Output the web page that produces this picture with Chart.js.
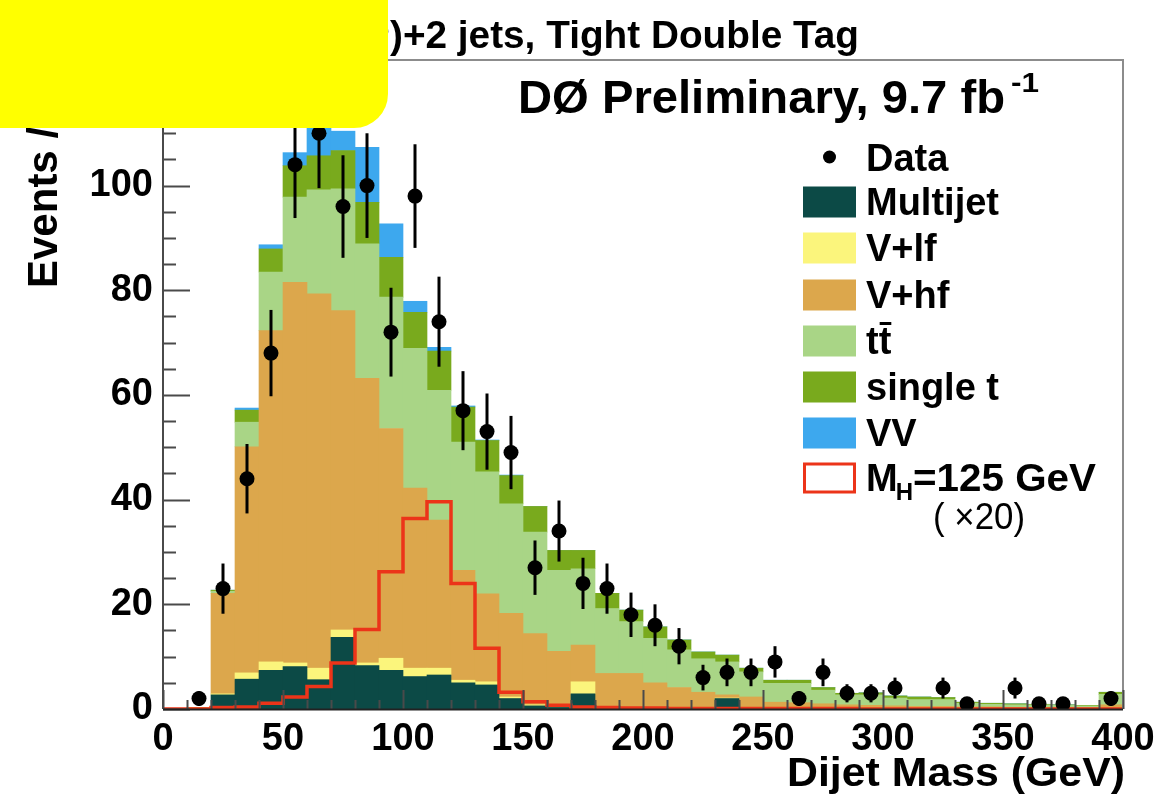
<!DOCTYPE html>
<html>
<head>
<meta charset="utf-8">
<script src="https://cdn.jsdelivr.net/npm/chart.js@4.4.1/dist/chart.umd.min.js"></script>
<style>
  body { margin: 0; background: #fff; }
  #wrap { position: relative; width: 1176px; height: 799px; overflow: hidden; }
  #hide { position: absolute; left: -40px; top: -40px; width: 428px; height: 168px; background: #ffff00; border-radius: 34px; }
</style>
</head>
<body>
<div id="wrap">
  <canvas id="c" width="1176" height="799"></canvas>
  <div id="hide"></div>
</div>
<script>
// dijet mass bins, 10 GeV wide (lower edges)
const binLow = [0, 10, 20, 30, 40, 50, 60, 70, 80, 90, 100, 110, 120, 130, 140, 150, 160, 170, 180, 190,
  200, 210, 220, 230, 240, 250, 260, 270, 280, 290, 300, 310, 320, 330, 340, 350, 360, 370, 380, 390];
const binWidth = 10;

// backgrounds (stacked bottom -> top)
const multijet = [0, 0, 2.7, 5.7, 7.4, 8.1, 5.6, 13.7, 8.3, 7.4, 6.2, 6.5, 5.0, 4.6, 2.0, 0.6, 0.3, 2.9, 0.2, 0.2,
  0.1, 0.1, 0.1, 2.0, 0, 0, 0, 0, 0, 0, 0, 0, 0, 0, 0, 0, 0, 0, 0, 0];
const vlf = [0, 0, 0.2, 1.2, 1.6, 0.7, 2.2, 1.4, 0.5, 2.3, 1.6, 1.3, 0.5, 0.6, 0.3, 0.2, 0.2, 2.3, 0.2, 0.1,
  0.1, 0.1, 0.1, 0.1, 0.1, 0, 0, 0, 0, 0, 0, 0, 0, 0, 0, 0, 0, 0, 0, 0];
const vhf = [0, 0.3, 19.2, 43.2, 63.3, 72.7, 71.5, 61.0, 54.4, 43.9, 34.4, 28.3, 21.0, 16.8, 16.0, 13.6, 10.5, 7.0, 6.4, 6.5,
  4.8, 3.9, 3.0, 0.6, 2.2, 1.3, 1.2, 1.0, 0.8, 0.7, 0.6, 0.5, 0.5, 0.4, 0.4, 0.3, 0.3, 0.3, 0.2, 0.8];
const ttbar = [0, 0, 0.4, 4.7, 11.2, 16.3, 19.9, 23.3, 25.7, 25.1, 26.7, 24.8, 24.5, 23.3, 20.9, 19.4, 15.5, 14.6, 12.4, 9.9,
  8.5, 7.2, 6.4, 6.3, 4.8, 3.6, 3.7, 2.6, 1.9, 2.0, 1.5, 1.3, 1.3, 0.7, 0.5, 0.5, 0.5, 0.4, 0.4, 2.0];
const singleTop = [0, 0, 0.2, 2.3, 4.4, 6.0, 6.5, 7.3, 7.9, 7.6, 6.9, 7.5, 6.7, 6.0, 5.4, 4.9, 3.8, 3.5, 2.9, 2.2,
  2.2, 1.9, 1.3, 1.3, 0.7, 0.6, 0.6, 0.5, 0.3, 0.4, 0.4, 0.5, 0.4, 0.2, 0.2, 0.2, 0.1, 0.1, 0.1, 0.4];
const vv = [0, 0, 0, 0.4, 0.8, 2.5, 7.0, 3.7, 10.5, 6.4, 2.1, 0.7, 0.2, 0.1, 0.1, 0, 0, 0, 0, 0,
  0, 0, 0, 0, 0, 0, 0, 0, 0, 0, 0, 0, 0, 0, 0, 0, 0, 0, 0, 0];

// MH = 125 GeV signal, x20
const signal = [0, 0, 0.3, 0.4, 1.1, 2.3, 4.3, 8.8, 15.2, 26.2, 36.4, 39.6, 24.0, 11.6, 3.2, 1.4, 0.7, 0.4, 0.3, 0.2,
  0.2, 0.1, 0.1, 0.1, 0.1, 0.1, 0.1, 0.1, 0.1, 0, 0, 0, 0, 0, 0, 0, 0, 0, 0, 0];

// observed events (null = empty bin)
const dataCounts = [null, 2, 23, 44, 68, 104, 110, 96, 100, 72, 98, 74, 57, 53, 49, 27, 34, 24, 23, 18,
  16, 12, 6, 7, 7, 9, 2, 7, 3, 3, 4, null, 4, 1, null, 4, 1, 1, null, 2];

const xTicks = [0, 50, 100, 150, 200, 250, 300, 350, 400];
const yTicks = [0, 20, 40, 60, 80, 100];

const FONT = '"Liberation Sans", Arial, Helvetica, sans-serif';
const colors = {
  multijet: '#0c4a46', vlf: '#fbf57c', vhf: '#dca74c', ttbar: '#a9d586', singleTop: '#79aa1d', vv: '#3da8ee',
  signal: '#ec3419'
};

function centers(vals) {
  return vals.map((v, i) => ({ x: binLow[i] + binWidth / 2, y: v }));
}

function stackSet(label, vals, color) {
  return { type: 'bar', label, data: centers(vals), backgroundColor: color, borderWidth: 0,
    barPercentage: 1, categoryPercentage: 1, stack: 'bkg', order: 0 };
}

const sigPoints = binLow.map((b, i) => ({ x: b, y: signal[i] }));
sigPoints.push({ x: binLow[binLow.length - 1] + binWidth, y: signal[signal.length - 1] });

const dataPoints = [];
dataCounts.forEach((v, i) => { if (v !== null) dataPoints.push({ x: binLow[i] + binWidth / 2, y: v }); });

function fitText(ctx, txt, x, y, w, align) {
  const m = ctx.measureText(txt).width;
  ctx.save();
  ctx.translate(x, y);
  ctx.scale(w / m, 1);
  ctx.textAlign = align;
  ctx.fillText(txt, 0, 0);
  ctx.restore();
}

// poisson error bars for the data, drawn just under the markers
const errorBars = {
  id: 'errorBars',
  beforeDatasetDraw(chart, args) {
    if (chart.data.datasets[args.index].label !== 'Data') return;
    const { ctx, scales: { x, y } } = chart;
    ctx.save();
    ctx.strokeStyle = '#000';
    ctx.lineWidth = 3;
    dataPoints.forEach(p => {
      const e = Math.sqrt(p.y);
      const px = x.getPixelForValue(p.x);
      ctx.beginPath();
      ctx.moveTo(px, y.getPixelForValue(p.y - e));
      ctx.lineTo(px, y.getPixelForValue(p.y + e));
      ctx.stroke();
    });
    ctx.restore();
  }
};

// ROOT-like frame: inward ticks, grey top/right border
const frame = {
  id: 'frame',
  afterDatasetsDraw(chart) {
    const { ctx, chartArea: a, scales: { x, y } } = chart;
    ctx.save();
    ctx.lineWidth = 2;
    ctx.strokeStyle = '#8c8c8c';
    ctx.beginPath();
    ctx.moveTo(a.left, a.top); ctx.lineTo(a.right, a.top); ctx.lineTo(a.right, a.bottom);
    ctx.stroke();

    ctx.strokeStyle = '#4a4a4a';
    ctx.beginPath();
    ctx.moveTo(a.left, a.top); ctx.lineTo(a.left, a.bottom);
    for (let v = 0; v <= y.max; v += 5) {
      const py = Math.round(y.getPixelForValue(v)) + 0.5;
      ctx.moveTo(a.left, py);
      ctx.lineTo(a.left + (v % 20 === 0 ? 27 : 13), py);
    }
    for (let v = x.min; v <= x.max; v += binWidth) {
      const px = Math.round(x.getPixelForValue(v)) + 0.5;
      ctx.moveTo(px, a.bottom);
      ctx.lineTo(px, a.bottom - (v % 50 === 0 ? 19 : 9));
    }
    ctx.stroke();
    ctx.strokeStyle = '#222';
    ctx.beginPath();
    ctx.moveTo(a.left, a.bottom + 0.5); ctx.lineTo(a.right, a.bottom + 0.5);
    ctx.stroke();
    ctx.restore();
  }
};

const texts = {
  id: 'texts',
  afterDraw(chart) {
    const ctx = chart.ctx;
    ctx.save();
    ctx.fillStyle = '#000';
    ctx.textBaseline = 'alphabetic';

    // title (left part is under the yellow patch)
    ctx.font = 'bold 38px ' + FONT;
    const title = 'W(\u2192\u2113\u03bd)+2 jets, Tight Double Tag';
    const tail = ')+2 jets, Tight Double Tag';
    const s = 469 / ctx.measureText(tail).width;
    ctx.save();
    ctx.translate(859, 48);
    ctx.scale(s, 1);
    ctx.textAlign = 'right';
    ctx.fillText(title, 0, 0);
    ctx.restore();

    ctx.font = 'bold 46px ' + FONT;
    fitText(ctx, 'D\u00d8 Preliminary, 9.7 fb', 518, 113, 487, 'left');
    ctx.font = 'bold 28px ' + FONT;
    fitText(ctx, '-1', 1011, 92, 28, 'left');

    // axis titles
    ctx.font = 'bold 42px ' + FONT;
    ctx.save();
    ctx.translate(57, 288);
    ctx.rotate(-Math.PI / 2);
    ctx.textAlign = 'left';
    ctx.fillText('Events / 10 GeV', 0, 0);
    ctx.restore();
    ctx.font = 'bold 40px ' + FONT;
    fitText(ctx, 'Dijet Mass (GeV)', 1125, 786, 338, 'right');

    // legend
    const bx = 803, bw = 53, bh = 31, tx = 866;
    ctx.font = 'bold 38px ' + FONT;
    ctx.textAlign = 'left';
    ctx.beginPath();
    ctx.arc(bx + bw / 2, 157, 6.5, 0, Math.PI * 2);
    ctx.fill();
    ctx.fillText('Data', tx, 171);
    const rows = [
      ['Multijet', colors.multijet, 202],
      ['V+lf', colors.vlf, 248],
      ['V+hf', colors.vhf, 295],
      ['tt', colors.ttbar, 341],
      ['single t', colors.singleTop, 387],
      ['VV', colors.vv, 433]
    ];
    rows.forEach(([lab, col, cy]) => {
      ctx.fillStyle = col;
      ctx.fillRect(bx, cy - bh / 2, bw, bh);
      ctx.fillStyle = '#000';
      ctx.fillText(lab, tx, cy + 13);
    });
    // bar over second t
    const tW = ctx.measureText('t').width;
    ctx.fillRect(tx + tW + 1, 322, tW - 1, 3);

    ctx.strokeStyle = colors.signal;
    ctx.lineWidth = 3;
    ctx.strokeRect(bx + 1.5, 478 - bh / 2 + 1.5, bw - 3, bh - 3);
    ctx.fillText('M', tx, 491);
    const mW = ctx.measureText('M').width;
    ctx.font = 'bold 24px ' + FONT;
    ctx.fillText('H', tx + mW - 2, 500);
    const hW = ctx.measureText('H').width;
    ctx.font = 'bold 38px ' + FONT;
    fitText(ctx, '=125 GeV', tx + mW + hW - 2, 491, 183, 'left');
    ctx.font = '36px ' + FONT;
    ctx.textAlign = 'center';
    fitText(ctx, '( \u00d720)', 979, 529, 92, 'center');
    ctx.restore();
  }
};

new Chart(document.getElementById('c'), {
  type: 'bar',
  data: {
    datasets: [
      stackSet('Multijet', multijet, colors.multijet),
      stackSet('V+lf', vlf, colors.vlf),
      stackSet('V+hf', vhf, colors.vhf),
      stackSet('ttbar', ttbar, colors.ttbar),
      stackSet('single t', singleTop, colors.singleTop),
      stackSet('VV', vv, colors.vv),
      { type: 'line', label: 'MH=125 GeV (x20)', data: sigPoints, stepped: 'before', borderColor: colors.signal,
        borderWidth: 3.5, pointRadius: 0, fill: false, stack: 'sig', order: -1 },
      { type: 'scatter', label: 'Data', data: dataPoints, pointRadius: 7.5, pointBackgroundColor: '#000',
        pointBorderWidth: 0, showLine: false, stack: 'data', order: -2 }
    ]
  },
  options: {
    responsive: false,
    animation: false,
    devicePixelRatio: 1,
    layout: { padding: { left: 0, top: 60, right: 53, bottom: 0 } },
    plugins: { legend: { display: false }, tooltip: { enabled: false } },
    scales: {
      x: {
        type: 'linear', min: 0, max: 400, stacked: true, offset: false,
        grid: { display: false, drawTicks: false }, border: { display: false },
        afterBuildTicks: s => { s.ticks = xTicks.map(v => ({ value: v })); },
        ticks: { color: '#000', padding: 8, maxRotation: 0, autoSkip: false,
          font: { family: FONT, weight: 'bold', size: 38 } },
        afterFit: s => { s.height = 90; }
      },
      y: {
        min: 0, max: 124, stacked: true,
        grid: { display: false, drawTicks: false }, border: { display: false },
        afterBuildTicks: s => { s.ticks = yTicks.map(v => ({ value: v })); },
        ticks: { color: '#000', padding: 10, font: { family: FONT, weight: 'bold', size: 38 } },
        afterFit: s => { s.width = 163; }
      }
    }
  },
  plugins: [errorBars, frame, texts]
});
</script>
</body>
</html>
